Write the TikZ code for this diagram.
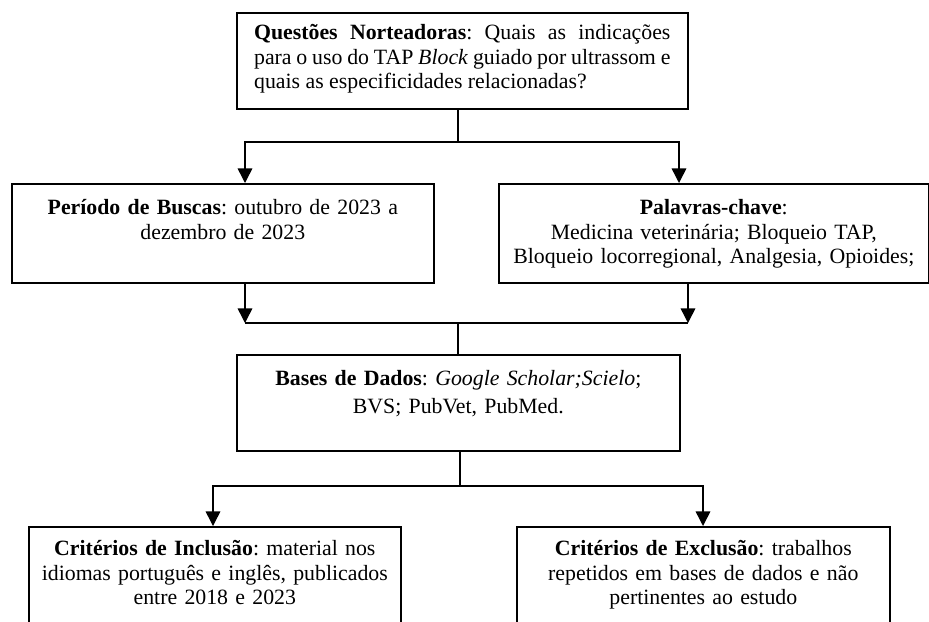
\documentclass[tikz,border=0pt]{standalone}
\usepackage{fontspec}
\setmainfont{Liberation Serif}
\frenchspacing
\usetikzlibrary{arrows.meta}
\usetikzlibrary{positioning}

\begin{document}
\begin{tikzpicture}
	[
		x = 0.55pt, y = -0.55pt,
		box/.style = {rectangle, draw = black, line width = 0.9pt, anchor = north west, inner sep = 0pt, align = center, font = \fontsize{12}{13.5}\selectfont},
		link/.style = {line width = 0.8pt},
		arrow/.style = {line width = 0.8pt, -{Triangle[length = 8pt, width = 8pt]}},
	]
	\clip (0,0) rectangle (929,621);
	\fill [white] (0,0) rectangle (929,621);
	% boxes
	\node (quest) [box, minimum width = 248pt, text width = 229pt, align = justify, text height = 14.85pt, text depth = 37.95pt] at (236,12) {\textbf{Questões Norteadoras}: Quais as indicações\linebreak para o uso do TAP \textit{Block} guiado por ultrassom e\linebreak quais as especificidades relacionadas?};
	\node (period) [box, text width = 232.1pt, text height = 17.05pt, text depth = 37.4pt] at (11,183) {\textbf{Período de Buscas}: outubro de 2023 a\\ dezembro de 2023};
	\node (keywords) [box, text width = 236.5pt, text height = 17.05pt, text depth = 37.4pt] at (498,183) {\textbf{Palavras-chave}:\\ Medicina veterinária; Bloqueio TAP,\\ Bloqueio locorregional, Analgesia, Opioides;};
	\node (bases) [box, text width = 243.65pt, text height = 17.05pt, text depth = 35.75pt] at (236,354) {\textbf{Bases de Dados}: \textit{Google Scholar;Scielo};\\[1.9pt] BVS; PubVet, PubMed.};
	\node (inclusion) [box, text width = 204.6pt, text height = 15.95pt, text depth = 90pt] at (28,526) {\textbf{Critérios de Inclusão}: material nos\\ idiomas português e inglês, publicados\\ entre 2018 e 2023};
	\node (exclusion) [box, text width = 205.15pt, text height = 15.95pt, text depth = 90pt] at (516,526) {\textbf{Critérios de Exclusão}: trabalhos\\ repetidos em bases de dados e não\\ pertinentes ao estudo};
	% connectors
	\coordinate (split1) at (458,142);
	\coordinate (join1) at (458,323);
	\coordinate (split2) at (460,486);
	\draw [link] (split1 |- quest.south) -- (split1);
	\draw [arrow] (split1) -| (245,0 |- period.north);
	\draw [arrow] (split1) -| (679,0 |- keywords.north);
	\draw [arrow] (245,0 |- period.south) -- (245,0 |- join1);
	\draw [arrow] (688,0 |- keywords.south) -- (688,0 |- join1);
	\draw [link] (245,0 |- join1) -- (688,0 |- join1);
	\draw [link] (join1) -- (join1 |- bases.north);
	\draw [link] (split2 |- bases.south) -- (split2);
	\draw [arrow] (split2) -| (213,0 |- inclusion.north);
	\draw [arrow] (split2) -| (703,0 |- exclusion.north);
\end{tikzpicture}
\end{document}
